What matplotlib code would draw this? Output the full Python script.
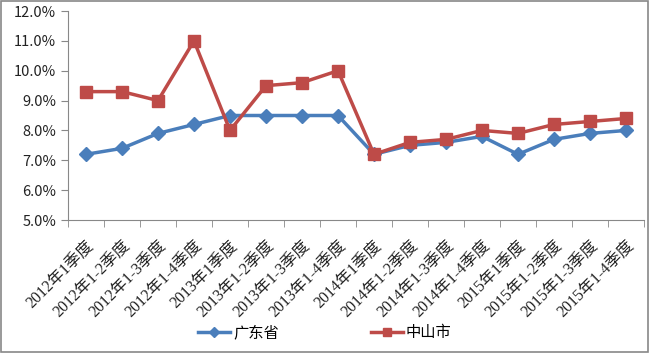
import matplotlib
matplotlib.use("Agg")
import matplotlib.pyplot as plt
from matplotlib.ticker import FuncFormatter, MultipleLocator, FixedLocator
from matplotlib.patches import Rectangle

plt.rcParams['font.family'] = ['Noto Sans CJK SC', 'DejaVu Sans']

categories = ["2012年1季度", "2012年1-2季度", "2012年1-3季度", "2012年1-4季度",
              "2013年1季度", "2013年1-2季度", "2013年1-3季度", "2013年1-4季度",
              "2014年1季度", "2014年1-2季度", "2014年1-3季度", "2014年1-4季度",
              "2015年1季度", "2015年1-2季度", "2015年1-3季度", "2015年1-4季度"]
guangdong = [7.2, 7.4, 7.9, 8.2, 8.5, 8.5, 8.5, 8.5, 7.2, 7.5, 7.6, 7.8, 7.2, 7.7, 7.9, 8.0]
zhongshan = [9.3, 9.3, 9.0, 11.0, 8.0, 9.5, 9.6, 10.0, 7.2, 7.6, 7.7, 8.0, 7.9, 8.2, 8.3, 8.4]

W, H = 650, 353
fig = plt.figure(figsize=(W/100, H/100), dpi=100)
fig.patches.append(Rectangle((0.002, 0.003), 0.995, 0.994, transform=fig.transFigure,
                             fill=False, edgecolor='#888888', linewidth=1.2))
ax = fig.add_axes([68/W, 1-220/H, (644-68)/W, (220-11)/H])

x = list(range(len(categories)))
ax.plot(x, guangdong, color='#4A7EBB', linewidth=2.5, marker='D', markersize=7.5,
        label='广东省', zorder=3)
ax.plot(x, zhongshan, color='#BE4B48', linewidth=2.5, marker='s', markersize=9,
        label='中山市', zorder=4)

ax.set_xlim(-0.5, len(categories) - 0.5)
ax.set_ylim(5.0, 12.0)
ax.yaxis.set_major_locator(MultipleLocator(1.0))
ax.yaxis.set_major_formatter(FuncFormatter(lambda v, p: f"{v:.1f}%"))
ax.set_xticks(x)
ax.set_xticklabels(categories, rotation=45, ha='right', va='top', rotation_mode='anchor',
                   fontsize=11.5, color='#222222',
                   family=['Liberation Serif', 'Noto Sans CJK SC'])
ax.tick_params(axis='x', which='major', length=0, pad=13)
ax.xaxis.set_minor_locator(FixedLocator([i - 0.5 for i in range(len(categories) + 1)]))
ax.tick_params(axis='x', which='minor', length=5, color='#888888', direction='out')
ax.tick_params(axis='y', length=5, color='#888888', direction='out', labelsize=10.5,
               labelcolor='#222222')
for s in ['top', 'right']:
    ax.spines[s].set_visible(False)
for s in ['left', 'bottom']:
    ax.spines[s].set_color('#888888')

leg = fig.legend(loc='center', bbox_to_anchor=(325/W, 1-333/H), ncol=2, frameon=False,
                 fontsize=11, handlelength=2.1, handletextpad=0.2, columnspacing=6,
                 markerscale=0.7)

fig.savefig('out.png', dpi=100)
